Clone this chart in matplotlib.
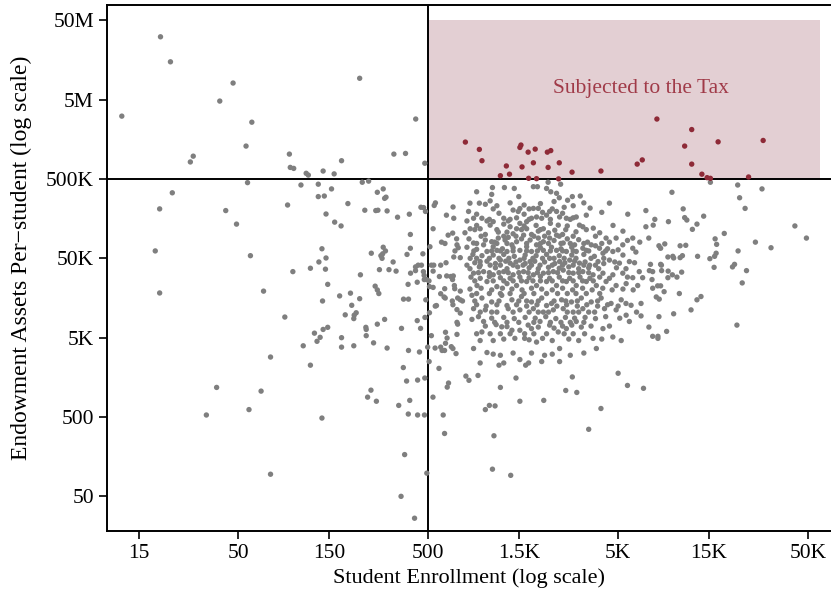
import numpy as np
import matplotlib
matplotlib.use("Agg")
import matplotlib.pyplot as plt
from matplotlib.patches import Rectangle

plt.rcParams["font.family"] = ["Liberation Serif", "DejaVu Serif"]

# (enrollment, endowment per student) -- schools under 500 students
small_schools = [
    (19.5, 31e6), (22, 15e6), (47, 8.1e6), (40, 4.8e6), (12.2, 3.1e6), (59, 2.6e6),
    (55, 1.3e6), (29, 9.7e5), (28, 8.2e5), (93, 1.03e6), (94, 7.0e5), (98, 6.8e5),
    (56, 4.5e5), (218, 9.3e6), (430, 2.85e6), (330, 1.03e6), (380, 1.05e6), (175, 8.5e5),
    (480, 7.9e5), (114, 5.9e5), (117, 5.6e5), (140, 6.3e5), (160, 5.8e5), (132, 4.3e5),
    (225, 4.55e5), (243, 4.7e5), (107, 4.2e5), (22.5, 3.35e5), (19.3, 2.1e5), (43, 2.0e5),
    (49, 1.35e5), (18.3, 6.2e4), (58, 5.4e4), (19.3, 1.83e4), (68, 1.93e4), (88, 9.1e3),
    (74, 2.85e3), (91, 2.35e5), (38.5, 1.18e3), (66, 1.06e3), (34, 530), (57, 620),
    (74, 95), (120, 2.25e3), (370, 2.1e3), (385, 1.42e3), (440, 1.46e3), (480, 1.55e3),
    (250, 1.09e3), (240, 890), (267, 790), (400, 810), (350, 700), (393, 545),
    (440, 530), (478, 530), (138, 485), (376, 168), (492, 98), (360, 50), (424, 26.5),
    (155, 3.75e5), (270, 3.4e5), (290, 3.75e5), (132, 3.0e5), (142, 3.05e5), (300, 2.95e5),
    (295, 2.85e5), (189, 2.45e5), (232, 2.02e5), (265, 2.0e5), (272, 2.02e5), (304, 1.98e5),
    (145, 1.81e5), (345, 1.65e5), (398, 1.8e5), (458, 2.2e5), (473, 2.18e5), (484, 1.95e5),
    (161, 1.43e5), (174, 1.28e5), (403, 1.0e5), (290, 6.9e4), (298, 6.2e4), (282, 5.4e4),
    (288, 5.7e4), (286, 5.0e4), (251, 5.8e4), (403, 6.7e4), (387, 5.6e4), (469, 5.7e4),
    (138, 6.6e4), (145, 5.05e4), (133, 4.5e4), (144, 3.65e4), (120, 3.75e4), (97, 3.4e4),
    (327, 4.5e4), (277, 3.6e4), (311, 3.6e4), (339, 3.45e4), (429, 3.9e4), (443, 4.1e4),
    (461, 4.1e4), (404, 3.25e4), (429, 3.5e4), (472, 3.4e4), (476, 3.05e4), (220, 3.1e4),
    (490, 2.7e4), (148, 2.35e4), (392, 2.35e4), (438, 2.5e4), (477, 2.7e4), (263, 2.23e4),
    (270, 2.0e4), (275, 1.8e4), (171, 1.68e4), (195, 1.82e4), (218, 1.55e4), (139, 1.45e4),
    (198, 1.28e4), (371, 1.53e4), (394, 1.53e4), (486, 1.5e4), (183, 9.7e3), (209, 1.03e4),
    (204, 9.6e3), (203, 8.7e3), (295, 8.5e3), (270, 7.4e3), (235, 6.75e3), (236, 6.35e3),
    (438, 8.2e3), (481, 9.0e3), (456, 6.55e3), (362, 6.55e3), (148, 6.75e3), (140, 6.35e3),
    (126, 5.7e3), (135, 5.05e3), (130, 4.5e3), (175, 5.0e3), (236, 5.3e3), (258, 4.3e3),
    (175, 3.8e3), (203, 3.95e3), (110, 3.95e3), (304, 3.7e3), (394, 3.45e3), (450, 3.3e3),
    (497, 3.8e3),
]

# schools from 500 to about 7,000 students, below the threshold
mid_schools = [
    (2140, 4.55e5), (2490, 4.3e5), (546, 2.5e5), (538, 2.32e5), (676, 2.22e5), (624, 1.75e5),
    (682, 1.6e5), (531, 1.18e5), (637, 9.8e4), (673, 1.04e5), (706, 8.8e4), (709, 7.4e4),
    (720, 6.8e4), (692, 6.2e4), (588, 8.0e4), (613, 7.7e4), (781, 1.05e5), (800, 1.48e5),
    (511, 7.0e4), (682, 5.2e4), (738, 5.1e4), (520, 4.1e4), (535, 4.1e4), (582, 4.1e4),
    (621, 4.4e4), (531, 3.45e4), (573, 2.95e4), (626, 3.0e4), (657, 2.95e4), (678, 3.0e4),
    (672, 2.7e4), (505, 2.6e4), (508, 2.2e4), (531, 2.15e4), (611, 2.07e4), (687, 2.27e4),
    (690, 2.07e4), (738, 1.93e4), (582, 1.79e4), (606, 1.63e4), (615, 1.58e4), (670, 1.45e4),
    (675, 1.3e4), (715, 1.58e4), (738, 1.5e4), (758, 1.45e4), (553, 1.27e4), (545, 1.25e4),
    (508, 1.03e4), (709, 1.13e4), (738, 1.02e4), (709, 7.8e3), (715, 7.4e3), (520, 5.3e3),
    (544, 3.7e3), (617, 5.85e3), (629, 4.95e3), (709, 5.5e3), (617, 4.25e3), (582, 3.8e3),
    (592, 3.45e3), (610, 3.45e3), (662, 3.85e3), (675, 3.65e3), (701, 3.15e3), (506, 2.5e3),
    (570, 2.05e3), (790, 1.64e3), (640, 1.34e3), (630, 1.19e3), (530, 890), (600, 530),
    (610, 310), (820, 1.45e3), (915, 1.67e3), (1180, 2.25e3), (1630, 2.25e3), (1450, 1.55e3),
    (1200, 1.18e3), (1000, 620), (1050, 700), (1125, 690), (1520, 790), (2030, 810),
    (2650, 1.08e3), (2870, 1.6e3), (3030, 1.02e3), (5000, 1.78e3), (5600, 1.25e3), (6800, 1.15e3),
    (4060, 640), (3500, 350), (1110, 290), (1090, 110), (1360, 92),
    (1090, 3.9e5), (1260, 3.9e5), (1420, 3.8e5), (1500, 3.0e5), (1790, 4.0e5), (1880, 4.0e5),
    (2100, 3.8e5), (2210, 3.45e5), (2370, 3.3e5), (2450, 2.9e5), (2300, 2.6e5), (900, 3.45e5),
    (830, 2.48e5), (930, 2.48e5), (1060, 2.65e5), (1080, 3.2e5), (2710, 2.7e5), (2870, 3.0e5),
    (3160, 3.05e5), (2900, 2.3e5), (4500, 2.48e5), (3560, 2.15e5),
    (816, 1.95e5), (867, 1.6e5), (959, 1.6e5), (1020, 1.48e5), (1100, 1.45e5), (1250, 1.6e5),
    (1320, 1.48e5), (1400, 2.03e5), (1490, 1.95e5), (1520, 2.12e5), (1460, 1.62e5), (1650, 1.45e5),
    (1750, 1.6e5), (1860, 1.66e5), (1980, 1.6e5), (2100, 1.75e5), (2180, 1.95e5), (2370, 1.95e5),
    (2460, 1.66e5), (2670, 1.6e5), (2900, 1.62e5), (3010, 1.66e5), (3130, 1.31e5), (3260, 1.25e5),
    (2420, 1.31e5), (2320, 1.13e5), (2020, 1.18e5), (1900, 1.1e5), (1650, 1.18e5), (1790, 2.13e5),
    (1900, 2.13e5), (5620, 1.8e5), (832, 1.18e5), (939, 1.18e5), (1060, 1.31e5), (1170, 1.07e5),
    (1350, 1.25e5), (1460, 1.18e5), (1520, 1.38e5), (1300, 1.07e5),
    (867, 7.8e4), (979, 7.4e4), (1080, 8.1e4), (1170, 9.0e4), (1270, 8.5e4), (1380, 7.4e4),
    (1460, 8.1e4), (1590, 9.8e4), (1720, 8.5e4), (1860, 7.4e4), (2020, 8.1e4), (2180, 9.0e4),
    (2370, 9.8e4), (2230, 6.9e4), (2570, 7.8e4), (2950, 7.4e4), (3260, 6.7e4), (3610, 7.4e4),
    (3990, 6.7e4), (4320, 9.0e4), (4880, 9.0e4), (5290, 7.4e4), (5970, 9.0e4), (5970, 6.7e4),
    (4690, 6.1e4), (4160, 5.8e4), (1020, 6.1e4), (1150, 6.3e4), (1300, 6.1e4), (1520, 6.3e4),
    (1750, 6.1e4), (2020, 6.3e4), (2370, 6.3e4), (2670, 6.1e4), (3010, 6.1e4), (800, 6.9e4),
    (832, 5.0e4), (939, 4.55e4), (1060, 4.1e4), (1200, 4.75e4), (1350, 4.35e4), (1520, 4.75e4),
    (1720, 4.55e4), (1940, 4.1e4), (2180, 5.0e4), (2460, 4.55e4), (2780, 4.75e4), (3130, 4.35e4),
    (3540, 4.1e4), (3920, 4.55e4), (4500, 4.75e4), (5080, 4.35e4), (5730, 4.55e4), (6460, 3.4e4),
    (6730, 2.85e4), (5970, 2.85e4), (5290, 3.25e4), (4690, 3.1e4), (4160, 3.25e4), (3690, 3.1e4),
    (3260, 3.4e4), (2900, 3.25e4), (2570, 3.55e4), (2280, 3.4e4), (2020, 3.25e4), (1790, 3.1e4),
    (1590, 3.4e4), (1400, 3.1e4), (1250, 3.4e4), (1100, 3.1e4), (979, 3.4e4), (867, 3.25e4),
    (800, 4.1e4), (1020, 2.55e4), (904, 2.27e4), (1150, 2.2e4), (1300, 2.4e4), (1460, 2.27e4),
    (1650, 2.55e4), (1860, 2.27e4), (2100, 2.55e4), (2370, 2.27e4), (2670, 2.55e4), (3010, 2.27e4),
    (3400, 2.55e4), (3840, 2.27e4), (4320, 2.55e4), (4880, 2.27e4), (5510, 2.4e4), (6340, 2.27e4),
    (850, 1.71e4), (959, 1.58e4), (1080, 1.41e4), (1220, 1.71e4), (1380, 1.5e4), (1550, 1.65e4),
    (1750, 1.41e4), (1980, 1.58e4), (2230, 1.35e4), (2520, 1.5e4), (2840, 1.41e4), (3200, 1.58e4),
    (3610, 1.41e4), (4070, 1.58e4), (4590, 1.35e4), (5190, 1.5e4), (5850, 1.28e4), (6600, 1.35e4),
    (867, 1.16e4), (1000, 1.12e4), (1150, 1.05e4), (1320, 1.16e4), (1520, 1.12e4), (1790, 1.16e4),
    (2020, 1.05e4), (2280, 1.12e4), (2570, 1.16e4), (2900, 1.05e4), (3260, 1.16e4), (3760, 1.05e4),
    (4240, 1.16e4), (4880, 1.12e4), (5510, 9.6e3), (6250, 1.05e4),
    (850, 8.5e3), (979, 8.0e3), (1220, 6.85e3), (1380, 6.2e3), (1520, 6.2e3), (1610, 5.6e3),
    (1750, 6.5e3), (1940, 8.0e3), (2180, 7.2e3), (2420, 5.9e3), (2670, 6.5e3), (3010, 8.0e3),
    (3330, 5.6e3), (3690, 4.9e3), (4160, 6.5e3), (4690, 5.1e3), (5190, 4.6e3), (5730, 8.0e3),
    (6600, 9.4e3), (959, 5.9e3), (1060, 5.6e3), (939, 4.6e3), (1430, 4.9e3), (1610, 4.9e3),
    (1860, 4.4e3), (867, 3.65e3), (1020, 3.25e3), (1200, 3.0e3), (1250, 2.4e3), (1520, 2.65e3),
    (1690, 2.4e3), (2050, 3.0e3), (1980, 2.5e3), (2460, 3.65e3), (2460, 2.5e3), (3840, 3.65e3),
    (939, 2.4e3),
]

# the crowded middle of the cloud (800 to 6,500 students)
core_schools = [
    (1000, 2.4e5), (1150, 2.3e5), (1350, 2.5e5), (1600, 2.35e5), (1950, 2.45e5), (2600, 2.2e5),
    (3300, 2.5e5), (900, 1.8e5), (1180, 1.85e5), (1600, 1.8e5), (2000, 1.9e5), (2550, 1.85e5),
    (3400, 1.75e5), (4100, 1.9e5), (900, 1.3e5), (1250, 1.35e5), (1600, 1.28e5), (1850, 1.3e5),
    (2200, 1.38e5), (2700, 1.28e5), (3700, 1.2e5), (4700, 1.3e5), (1000, 1.0e5), (1400, 1.02e5),
    (1750, 1.0e5), (2150, 1.05e5), (2550, 1.0e5), (3000, 1.08e5), (4000, 1.05e5), (5300, 1.1e5),
    (820, 8.8e4), (1000, 8.5e4), (1120, 8.0e4), (1320, 9.2e4), (1550, 8.8e4), (1900, 9.0e4),
    (2300, 8.4e4), (2700, 8.8e4), (3100, 8.6e4), (3450, 8.0e4), (4500, 8.0e4), (5600, 8.4e4),
    (6500, 8.0e4), (900, 6.5e4), (1100, 7.0e4), (1230, 6.6e4), (1400, 6.8e4), (1650, 7.0e4),
    (1950, 6.8e4), (2500, 6.6e4), (2850, 6.9e4), (3400, 6.3e4), (3800, 7.2e4), (4400, 6.6e4),
    (5000, 6.4e4), (6200, 6.0e4), (860, 5.6e4), (960, 5.4e4), (1100, 5.5e4), (1250, 5.6e4),
    (1420, 5.3e4), (1620, 5.5e4), (1850, 5.4e4), (2100, 5.6e4), (2450, 5.4e4), (2850, 5.5e4),
    (3300, 5.6e4), (3750, 5.3e4), (5300, 5.5e4), (880, 4.4e4), (1020, 4.6e4), (1130, 4.3e4),
    (1280, 4.6e4), (1450, 4.5e4), (1620, 4.3e4), (1820, 4.6e4), (2050, 4.5e4), (2320, 4.3e4),
    (2620, 4.4e4), (2950, 4.6e4), (3350, 4.5e4), (4200, 4.3e4), (4800, 4.5e4), (6100, 4.4e4),
    (830, 3.7e4), (930, 3.9e4), (1130, 3.8e4), (1300, 3.7e4), (1480, 3.9e4), (1700, 3.8e4),
    (1900, 3.7e4), (2150, 3.85e4), (2450, 3.75e4), (2750, 3.9e4), (3100, 3.7e4), (3500, 3.8e4),
    (3950, 3.7e4), (4900, 3.8e4), (5500, 3.7e4), (840, 2.9e4), (940, 2.8e4), (1050, 2.95e4),
    (1200, 2.85e4), (1350, 2.8e4), (1520, 2.9e4), (1700, 2.85e4), (1950, 2.95e4), (2180, 2.8e4),
    (2450, 2.9e4), (2780, 2.8e4), (3150, 2.9e4), (3550, 2.8e4), (4000, 2.9e4), (4500, 2.8e4),
    (5600, 2.9e4), (830, 2.05e4), (950, 2.1e4), (1080, 2.0e4), (1230, 2.1e4), (1380, 2.05e4),
    (1560, 2.0e4), (1750, 2.1e4), (1980, 2.05e4), (2250, 2.0e4), (2550, 2.1e4), (2880, 2.0e4),
    (3250, 2.1e4), (3650, 2.0e4), (4150, 2.1e4), (4650, 2.0e4), (5300, 2.05e4), (6000, 2.0e4),
    (900, 1.3e4), (1010, 1.25e4), (1150, 1.3e4), (1300, 1.27e4), (1460, 1.3e4), (1650, 1.25e4),
    (1870, 1.3e4), (2100, 1.27e4), (2380, 1.25e4), (2680, 1.3e4), (3050, 1.25e4), (3420, 1.3e4),
    (3900, 1.25e4), (4400, 1.3e4), (5000, 1.25e4), (5500, 1.35e4), (920, 9.2e3), (1080, 8.8e3),
    (1250, 9.0e3), (1420, 8.7e3), (1620, 9.0e3), (1830, 8.8e3), (2080, 9.2e3), (2350, 8.7e3),
    (2640, 9.0e3), (2950, 8.8e3), (3350, 9.0e3), (3800, 8.7e3), (4300, 9.2e3), (5100, 8.8e3),
    (1000, 7.0e3), (1140, 7.3e3), (1300, 6.9e3), (1680, 7.2e3), (1900, 6.8e3), (2300, 6.6e3),
    (2550, 7.0e3), (2850, 7.2e3), (3200, 6.8e3), (3600, 7.0e3), (4500, 7.0e3), (1100, 4.6e3),
    (1250, 4.8e3), (1700, 4.7e3), (2000, 4.9e3), (2250, 4.6e3), (2750, 4.8e3), (3100, 4.6e3),
    (4100, 4.8e3), (1100, 3.1e3), (1400, 3.2e3), (1750, 3.2e3), (2250, 3.1e3), (2800, 3.0e3),
    (3300, 3.2e3),
    (1100, 2.1e5), (1700, 2.1e5), (2250, 2.1e5), (1050, 1.55e5), (1350, 1.55e5), (1700, 1.55e5),
    (2200, 1.55e5), (2800, 1.55e5), (880, 1.15e5), (1150, 1.15e5), (1550, 1.15e5), (1950, 1.15e5),
    (2650, 1.15e5), (3400, 1.15e5), (950, 9.5e4), (1250, 9.5e4), (1450, 9.5e4), (1800, 9.5e4),
    (2050, 9.5e4), (2450, 9.5e4), (2900, 9.5e4), (3800, 9.5e4), (900, 7.7e4), (1150, 7.7e4),
    (1300, 7.7e4), (1650, 7.7e4), (1950, 7.7e4), (2150, 7.7e4), (2500, 7.7e4), (2800, 7.7e4),
    (3300, 7.7e4), (4100, 7.7e4), (870, 6.2e4), (1080, 6.2e4), (1200, 6.2e4), (1400, 6.2e4),
    (1650, 6.2e4), (1880, 6.2e4), (2200, 6.2e4), (2550, 6.2e4), (2900, 6.2e4), (3500, 6.2e4),
    (4300, 6.2e4), (900, 5.0e4), (1050, 5.0e4), (1180, 5.0e4), (1330, 5.0e4), (1600, 5.0e4),
    (1780, 5.0e4), (2000, 5.0e4), (2300, 5.0e4), (2600, 5.0e4), (3000, 5.0e4), (3600, 5.0e4),
    (4200, 5.0e4), (940, 4.1e4), (1200, 4.1e4), (1400, 4.1e4), (1580, 4.1e4), (1750, 4.1e4),
    (2250, 4.1e4), (2550, 4.1e4), (2900, 4.1e4), (3300, 4.1e4), (3800, 4.1e4), (920, 3.3e4),
    (1050, 3.3e4), (1180, 3.3e4), (1320, 3.3e4), (1500, 3.3e4), (1680, 3.3e4), (1880, 3.3e4),
    (2150, 3.3e4), (2400, 3.3e4), (2750, 3.3e4), (3100, 3.3e4), (3500, 3.3e4), (880, 2.6e4),
    (1100, 2.6e4), (1250, 2.6e4), (1400, 2.6e4), (1550, 2.6e4), (1780, 2.6e4), (1950, 2.6e4),
    (2250, 2.6e4), (2550, 2.6e4), (2900, 2.6e4), (3250, 2.6e4), (3700, 2.6e4), (900, 1.8e4),
    (1050, 1.8e4), (1200, 1.8e4), (1350, 1.8e4), (1600, 1.8e4), (1800, 1.8e4), (2100, 1.8e4),
    (2400, 1.8e4), (2700, 1.8e4), (3000, 1.8e4), (3400, 1.8e4), (4000, 1.8e4), (880, 1.45e4),
    (1180, 1.45e4), (1500, 1.45e4), (1650, 1.45e4), (1900, 1.45e4), (2300, 1.45e4), (2650, 1.45e4),
    (3050, 1.45e4), (3900, 1.45e4), (940, 1.05e4), (1080, 1.05e4), (1400, 1.05e4), (1700, 1.05e4),
    (1900, 1.05e4), (2150, 1.05e4), (2700, 1.05e4), (3100, 1.05e4), (3500, 1.05e4), (1120, 7.8e3),
    (1300, 7.8e3), (1500, 7.8e3), (1800, 7.8e3), (2200, 7.8e3), (2500, 7.8e3), (2800, 7.8e3),
    (3300, 7.8e3), (900, 5.6e3), (1200, 5.6e3), (1350, 5.6e3), (1800, 5.6e3), (2100, 5.6e3),
    (2600, 5.6e3), (2900, 5.6e3),
]

# schools above about 7,000 students, below the threshold
large_schools = [
    (15300, 4.55e5), (21300, 4.2e5), (9600, 3.4e5), (28600, 3.75e5), (21800, 2.9e5), (23300, 2.13e5),
    (11000, 2.1e5), (7800, 1.55e5), (7650, 1.31e5), (7000, 2.0e5), (7000, 1.25e5), (9200, 1.45e5),
    (11200, 1.63e5), (11500, 1.52e5), (14100, 1.7e5), (13000, 1.35e5), (12300, 1.16e5), (7250, 9.0e4),
    (16200, 8.8e4), (18100, 1.03e5), (16500, 7.5e4), (42600, 1.28e5), (49000, 9.0e4), (26400, 8.0e4),
    (31900, 6.8e4), (8200, 7.2e4), (8370, 6.7e4), (8800, 7.6e4), (10600, 7.2e4), (11350, 7.3e4),
    (21400, 6.2e4), (16400, 5.8e4), (16100, 5.3e4), (15200, 4.95e4), (9140, 5.2e4), (9700, 5.3e4),
    (9800, 5.05e4), (10600, 5.1e4), (10900, 5.4e4), (13100, 5.3e4), (7400, 4.2e4), (8370, 4.2e4),
    (8450, 4.1e4), (20500, 4.2e4), (20000, 3.9e4), (16000, 3.85e4), (7300, 3.5e4), (7600, 3.4e4),
    (8470, 3.5e4), (9170, 3.45e4), (10800, 3.35e4), (23700, 3.5e4), (9650, 3.1e4), (10200, 2.9e4),
    (9140, 2.85e4), (7540, 2.7e4), (22500, 2.45e4), (8070, 2.25e4), (8370, 2.25e4), (7600, 2.1e4),
    (8730, 1.9e4), (10500, 1.8e4), (7940, 1.63e4), (8230, 1.53e4), (13650, 1.65e4), (13000, 1.5e4),
    (12100, 1.12e4), (9800, 1.0e4), (8200, 9.2e3), (21100, 7.2e3), (7260, 6.8e3), (9000, 6.0e3),
    (7600, 5.2e3), (8100, 5.2e3), (8100, 4.9e3),
]

# schools over both thresholds (500 students, $500K per student)
taxed_schools = [
    (785, 1.46e6), (930, 1.18e6), (960, 8.5e5), (1540, 1.34e6), (1520, 1.25e6), (1680, 1.09e6),
    (1830, 1.19e6), (2120, 1.09e6), (2210, 1.14e6), (1290, 7.3e5), (1340, 5.75e5), (1200, 5.5e5),
    (1560, 7.1e5), (1790, 8.0e5), (2140, 7.0e5), (2450, 8.0e5), (2860, 6.1e5), (1690, 5.1e5),
    (1860, 5.05e5), (2430, 5.02e5), (4060, 6.3e5), (6300, 7.7e5), (6700, 8.7e5), (8000, 2.85e6),
    (12200, 2.1e6), (11200, 1.3e6), (16800, 1.47e6), (29000, 1.53e6), (12200, 7.7e5), (13800, 5.75e5),
    (14700, 5.2e5), (15300, 5.1e5), (24300, 5.3e5),
]

enroll_cut = 500
endow_cut = 500e3
x_ticks = [15, 50, 150, 500, 1500, 5000, 15000, 50000]
x_labels = ["15", "50", "150", "500", "1.5K", "5K", "15K", "50K"]
y_ticks = [50, 500, 5e3, 50e3, 500e3, 5e6, 50e6]
y_labels = ["50", "500", "5K", "50K", "500K", "5M", "50M"]

gray = np.array(small_schools + mid_schools + core_schools + large_schools)
red = np.array(taxed_schools)

fig = plt.figure(figsize=(8.31, 5.96), dpi=100)
ax = fig.add_axes([0.1288, 0.1091, 0.8712, 0.8825])
ax.set_xscale("log")
ax.set_yscale("log")
ax.set_xlim(10.2, 66000)
ax.set_ylim(18.3, 78e6)

ax.add_patch(Rectangle((enroll_cut, endow_cut), 58000 - enroll_cut, 50e6 - endow_cut,
                       facecolor="#e3cfd3", edgecolor="none", zorder=0))
ax.text(6600, 7.0e6, "Subjected to the Tax", color="#a03a48",
        fontsize=15.5, ha="center", va="center", zorder=1)

ax.axvline(enroll_cut, color="black", lw=1.4, zorder=1)
ax.axhline(endow_cut, color="black", lw=1.4, zorder=1)

ax.scatter(gray[:, 0], gray[:, 1], s=15, color="#7f7f7f", edgecolors="none", zorder=2)
ax.scatter(red[:, 0], red[:, 1], s=15, color="#8e2a37", edgecolors="none", zorder=3)

ax.set_xticks(x_ticks)
ax.set_xticklabels(x_labels)
ax.set_yticks(y_ticks)
ax.set_yticklabels(y_labels)
ax.minorticks_off()
ax.tick_params(labelsize=15.5, length=6, width=1.2, direction="out")

ax.set_xlabel("Student Enrollment (log scale)", fontsize=16, labelpad=4)
ax.set_ylabel("Endowment Assets Per\u2212student (log scale)", fontsize=17)
ax.yaxis.set_label_coords(-0.103, 0.519)

for side in ["left", "bottom", "top"]:
    ax.spines[side].set_linewidth(1.4)
ax.spines["right"].set_visible(False)

fig.savefig("out.png", dpi=100)
